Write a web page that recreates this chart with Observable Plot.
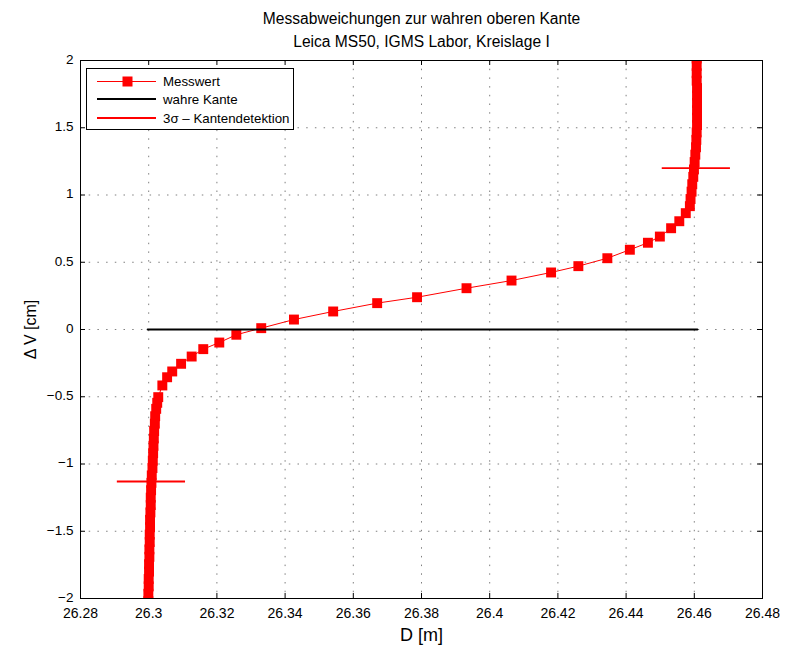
<!DOCTYPE html>
<html>
<head>
<meta charset="utf-8">
<script src="https://cdn.jsdelivr.net/npm/d3@7"></script>
<script src="https://cdn.jsdelivr.net/npm/@observablehq/plot@0.6"></script>
<style>
  body { margin: 0; background: #fff; }
  svg { display: block; }
</style>
</head>
<body>
<div id="chart"></div>
<script>
// Titles and labels
const titleLine1 = "Messabweichungen zur wahren oberen Kante";
const titleLine2 = "Leica MS50, IGMS Labor, Kreislage I";
const xLabel = "D [m]";
const yLabel = "Δ V [cm]";
const legendLabels = ["Messwert", "wahre Kante", "3σ – Kantendetektion"];

// Axis ticks
const xTicks = [26.28, 26.30, 26.32, 26.34, 26.36, 26.38, 26.40, 26.42, 26.44, 26.46, 26.48];
const yTicks = [-2, -1.5, -1, -0.5, 0, 0.5, 1, 1.5, 2];

// Measured points: lower edge run (D [m], ΔV [cm])
const lowX = [26.2999, 26.2999, 26.3000, 26.3000, 26.3001, 26.3001, 26.3002, 26.3002, 26.3003, 26.3003,
              26.3004, 26.3004, 26.3005, 26.3006, 26.3006, 26.3007, 26.3008, 26.3009, 26.3011, 26.3012,
              26.3013, 26.3014, 26.3015, 26.3016, 26.3018, 26.3019, 26.3022, 26.3025];
const lowY = [-2.02, -1.965, -1.91, -1.855, -1.80, -1.745, -1.69, -1.635, -1.58, -1.525,
              -1.47, -1.415, -1.36, -1.305, -1.25, -1.195, -1.14, -1.085, -1.03, -0.975,
              -0.92, -0.865, -0.81, -0.755, -0.70, -0.645, -0.59, -0.545];

// Measured points: transition across the face
const midX = [26.3028, 26.3040, 26.3054, 26.3069, 26.3095, 26.3126, 26.3160, 26.3207, 26.3257, 26.3330,
              26.3426, 26.3541, 26.3670, 26.3787, 26.3932, 26.4064, 26.4180, 26.4260, 26.4345, 26.4411,
              26.4464, 26.4499, 26.4532, 26.4556, 26.4575, 26.4587];
const midY = [-0.503, -0.416, -0.355, -0.312, -0.255, -0.201, -0.146, -0.097, -0.039, 0.010,
              0.074, 0.134, 0.196, 0.240, 0.307, 0.364, 0.424, 0.471, 0.530, 0.593,
              0.645, 0.691, 0.753, 0.805, 0.865, 0.917];

// Measured points: upper edge run
const highX = [26.4589, 26.4592, 26.4594, 26.4597, 26.4599, 26.4601, 26.4603, 26.4605, 26.4606, 26.4607,
               26.4608, 26.4608, 26.4608, 26.4608, 26.4608, 26.4608, 26.4607, 26.4607, 26.4607, 26.4607];
const highY = [0.97, 1.025, 1.08, 1.135, 1.19, 1.245, 1.30, 1.355, 1.41, 1.465,
               1.52, 1.575, 1.63, 1.685, 1.74, 1.795, 1.85, 1.905, 1.96, 2.015];

// True edge (horizontal reference)
const edgeX = [26.2997, 26.4609];
const edgeY = [0, 0];

// 3σ edge detection markers: centre D, ΔV, half length
const sigmaX = [26.3008, 26.4606];
const sigmaY = [-1.13, 1.20];
const sigmaHalf = 0.01;

const allY = [...lowY, ...midY, ...highY];
const mess = [...lowX, ...midX, ...highX].map((x, i) => ({x, y: allY[i]}));
const edge = edgeX.map((x, i) => ({x, y: edgeY[i]}));
const sigma = sigmaX.map((c, i) => ({x1: c - sigmaHalf, x2: c + sigmaHalf, y: sigmaY[i]}));

const font = "Liberation Sans, Arial, Helvetica, sans-serif";
const fmtX = d => String(+d.toFixed(2));
const fmtY = d => String(d).replace("-", "−");

const chart = Plot.plot({
  width: 785,
  height: 651,
  marginLeft: 80,
  marginRight: 23,
  marginTop: 60,
  marginBottom: 53,
  style: {fontFamily: font, fontSize: "14px", color: "#000", background: "#fff"},
  x: {domain: [26.28, 26.48], label: null},
  y: {domain: [-2, 2], label: null},
  marks: [
    // dotted grid
    Plot.gridX(xTicks, {stroke: "#000", strokeOpacity: 0.5, strokeDasharray: "1.5,7.2"}),
    Plot.gridY(yTicks, {stroke: "#000", strokeOpacity: 0.5, strokeDasharray: "1.5,7.2"}),
    // inward ticks on all four sides
    Plot.tickX(xTicks, {x: d => d, insetTop: 533, stroke: "#000"}),
    Plot.tickX(xTicks, {x: d => d, insetBottom: 533, stroke: "#000"}),
    Plot.tickY(yTicks, {y: d => d, insetRight: 677, stroke: "#000"}),
    Plot.tickY(yTicks, {y: d => d, insetLeft: 677, stroke: "#000"}),
    // tick labels
    Plot.axisX(xTicks, {tickSize: 0, tickPadding: 10, tickFormat: fmtX, fontSize: 14, label: null}),
    Plot.axisY(yTicks, {tickSize: 0, tickPadding: 7, dy: -1, tickFormat: fmtY, fontSize: 13.5, label: null}),
    // measurements
    Plot.line(mess, {x: "x", y: "y", stroke: "red", strokeWidth: 1, clip: true}),
    Plot.dot(mess, {x: "x", y: "y", symbol: "square", r: 5.6, fill: "red", stroke: "none", clip: true}),
    // true edge
    Plot.line(edge, {x: "x", y: "y", stroke: "#000", strokeWidth: 2}),
    // 3σ detection
    Plot.ruleY(sigma, {x1: "x1", x2: "x2", y: "y", stroke: "red", strokeWidth: 1.8}),
    Plot.frame({stroke: "#000", strokeWidth: 1}),
    // titles and axis labels
    Plot.text([titleLine1], {frameAnchor: "top", dy: -42, lineAnchor: "middle", fontSize: 15.6}),
    Plot.text([titleLine2], {frameAnchor: "top", dy: -19, lineAnchor: "middle", fontSize: 15.6}),
    Plot.text([xLabel], {frameAnchor: "bottom", dy: 37, lineAnchor: "middle", fontSize: 18}),
    Plot.text([yLabel], {frameAnchor: "left", dx: -50, rotate: -90, textAnchor: "middle", lineAnchor: "middle", fontSize: 16})
  ]
});

// Legend box in the upper-left corner of the axes
const svg = d3.select(chart);
const lg = svg.append("g").attr("font-family", font).attr("font-size", 13.3).attr("text-anchor", "start");
lg.append("rect").attr("x", 86.5).attr("y", 68.5).attr("width", 207).attr("height", 61)
  .attr("fill", "#fff").attr("stroke", "#000");
const rowY = [81.5, 99, 118];
const rowStroke = ["red", "#000", "red"];
const rowWidth = [1, 2, 1.8];
legendLabels.forEach((label, i) => {
  lg.append("line").attr("x1", 97).attr("x2", 156).attr("y1", rowY[i]).attr("y2", rowY[i])
    .attr("stroke", rowStroke[i]).attr("stroke-width", rowWidth[i]);
  if (i === 0) {
    lg.append("rect").attr("x", 122.5).attr("y", rowY[i] - 5).attr("width", 10).attr("height", 10).attr("fill", "red");
  }
  lg.append("text").attr("x", 163).attr("y", rowY[i]).attr("dy", "0.35em")
    .attr("text-anchor", "start").attr("fill", "#000").text(label);
});

document.getElementById("chart").appendChild(chart);
</script>
</body>
</html>
